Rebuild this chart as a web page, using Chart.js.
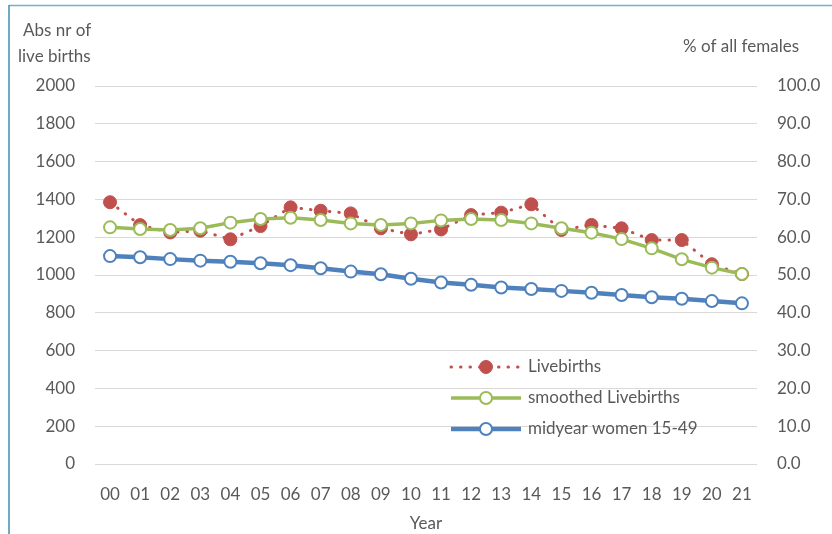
<!DOCTYPE html>
<html>
<head>
<meta charset="utf-8">
<script src="https://cdn.jsdelivr.net/npm/chart.js@4"></script>
<style>
  html, body { margin: 0; padding: 0; background: #fff; }
  #wrap { width: 832px; height: 534px; position: relative; }
</style>
</head>
<body>
<div id="wrap"><canvas id="birthsChart"></canvas></div>
<script>
// Chart data
const years = ['00','01','02','03','04','05','06','07','08','09','10',
               '11','12','13','14','15','16','17','18','19','20','21'];
const livebirths = [1385, 1264, 1225, 1234, 1189, 1259, 1358, 1340, 1326, 1247, 1215,
                    1241, 1317, 1330, 1374, 1238, 1265, 1247, 1185, 1185, 1057, 1005];
const smoothedLivebirths = [1252, 1243, 1238, 1247, 1277, 1296, 1303, 1291, 1273, 1265, 1273,
                            1289, 1296, 1291, 1273, 1247, 1224, 1190, 1141, 1083, 1039, 1005];
const midyearWomen = [55.0, 54.7, 54.2, 53.8, 53.5, 53.1, 52.6, 51.8, 50.9, 50.2, 49.0,
                      48.0, 47.4, 46.7, 46.3, 45.8, 45.3, 44.7, 44.1, 43.7, 43.1, 42.5];

const FONT = 'Lato, "Open Sans", sans-serif';
const TEXT = '#595959';
const RED = '#C0504D';
const GREEN = '#9BBB59';
const BLUE = '#4F81BD';

// Draws the frame, axis titles and the legend (line sample with marker in the middle)
const decorPlugin = {
    id: 'decor',
    afterDraw(chart) {
        const ctx = chart.ctx;
        ctx.save();

        // frame
        ctx.lineWidth = 1.5;
        ctx.strokeStyle = '#74B1C3';
        ctx.beginPath();
        ctx.moveTo(9, 5.5);
        ctx.lineTo(832, 5.5);
        ctx.stroke();
        ctx.strokeStyle = '#3E8DB3';
        ctx.lineWidth = 1.5;
        ctx.beginPath();
        ctx.moveTo(9, 5);
        ctx.lineTo(9, 534);
        ctx.stroke();

        // axis titles
        ctx.fillStyle = TEXT;
        ctx.font = '17px ' + FONT;
        ctx.textBaseline = 'middle';
        ctx.textAlign = 'left';
        ctx.fillText('Abs nr of', 23, 31);
        ctx.fillText('live births', 18, 57);
        ctx.fillText('% of all females', 683, 47);
        ctx.textAlign = 'center';
        ctx.fillText('Year', 426, 524);

        // legend
        const rows = [
            { ds: 0, y: 367, label: 'Livebirths' },
            { ds: 1, y: 398, label: 'smoothed Livebirths' },
            { ds: 2, y: 429, label: 'midyear women 15-49' }
        ];
        rows.forEach(r => {
            const d = chart.data.datasets[r.ds];
            ctx.save();
            ctx.strokeStyle = d.borderColor;
            ctx.lineWidth = d.borderWidth;
            ctx.lineCap = d.borderCapStyle || 'butt';
            if (d.borderDash) ctx.setLineDash(d.borderDash);
            ctx.beginPath();
            ctx.moveTo(451, r.y);
            ctx.lineTo(521, r.y);
            ctx.stroke();
            ctx.setLineDash([]);
            ctx.beginPath();
            ctx.arc(486, r.y, d.pointRadius, 0, Math.PI * 2);
            ctx.fillStyle = d.pointBackgroundColor;
            ctx.fill();
            ctx.lineWidth = d.pointBorderWidth;
            ctx.strokeStyle = d.pointBorderColor;
            ctx.stroke();
            ctx.restore();
            ctx.fillStyle = TEXT;
            ctx.textAlign = 'left';
            ctx.fillText(r.label, 528, r.y);
        });

        ctx.restore();
    }
};

new Chart(document.getElementById('birthsChart'), {
    type: 'line',
    data: {
        labels: years,
        datasets: [
            {
                label: 'Livebirths',
                data: livebirths,
                yAxisID: 'y',
                borderColor: RED,
                borderWidth: 3,
                borderDash: [0.5, 9],
                borderCapStyle: 'round',
                pointRadius: 6.5,
                pointBackgroundColor: RED,
                pointBorderColor: RED,
                pointBorderWidth: 1,
                tension: 0,
                order: 3
            },
            {
                label: 'smoothed Livebirths',
                data: smoothedLivebirths,
                yAxisID: 'y',
                borderColor: GREEN,
                borderWidth: 3.5,
                pointRadius: 6,
                pointBackgroundColor: '#ffffff',
                pointBorderColor: GREEN,
                pointBorderWidth: 2,
                tension: 0,
                order: 2
            },
            {
                label: 'midyear women 15-49',
                data: midyearWomen,
                yAxisID: 'y1',
                borderColor: BLUE,
                borderWidth: 4.5,
                pointRadius: 6,
                pointBackgroundColor: '#ffffff',
                pointBorderColor: BLUE,
                pointBorderWidth: 2,
                tension: 0,
                order: 1
            }
        ]
    },
    options: {
        responsive: true,
        maintainAspectRatio: false,
        animation: false,
        layout: { padding: { top: 86, left: 0, right: 0, bottom: 0 } },
        plugins: {
            legend: { display: false },
            tooltip: { enabled: false }
        },
        scales: {
            x: {
                offset: true,
                grid: { display: false, drawTicks: false },
                border: { display: false },
                ticks: {
                    color: TEXT,
                    font: { family: FONT, size: 17 },
                    padding: 20,
                    maxRotation: 0,
                    autoSkip: false
                },
                afterFit: s => { s.height = 70; }
            },
            y: {
                position: 'left',
                min: 0,
                max: 2000,
                grid: { color: '#D9D9D9', lineWidth: 1, drawTicks: false },
                border: { display: false },
                ticks: {
                    stepSize: 200,
                    color: TEXT,
                    font: { family: FONT, size: 17 },
                    padding: 20,
                    callback: v => String(v)
                },
                afterFit: s => { s.width = 95; }
            },
            y1: {
                position: 'right',
                min: 0,
                max: 100,
                grid: { drawOnChartArea: false, drawTicks: false },
                border: { display: false },
                ticks: {
                    stepSize: 10,
                    color: TEXT,
                    font: { family: FONT, size: 17 },
                    padding: 20,
                    callback: v => v.toFixed(1)
                },
                afterFit: s => { s.width = 75; }
            }
        }
    },
    plugins: [decorPlugin]
});
</script>
</body>
</html>
